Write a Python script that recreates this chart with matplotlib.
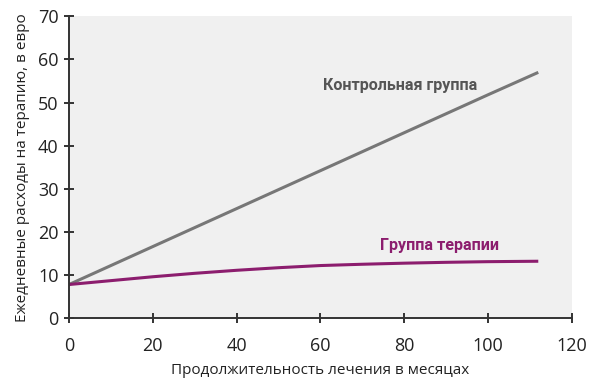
import matplotlib.pyplot as plt

# Daily therapy costs vs. treatment duration
months = [0, 10, 20, 30, 40, 50, 60, 70, 80, 90, 100, 112]
control = [7.8, 12.2, 16.6, 21.0, 25.4, 29.8, 34.2, 38.6, 43.0, 47.4, 51.8, 57.0]
therapy = [7.8, 8.7, 9.6, 10.4, 11.1, 11.7, 12.2, 12.5, 12.75, 12.95, 13.1, 13.2]

x_ticks = [0, 20, 40, 60, 80, 100, 120]
y_ticks = [0, 10, 20, 30, 40, 50, 60, 70]

GRAY = "#777777"
PURPLE = "#8c1d6e"

fig = plt.figure(figsize=(6, 3.88), dpi=100)
ax = fig.add_axes([0.115, 0.18, 0.838, 0.778])
ax.set_facecolor("#f0f0f0")

ax.plot(months, control, color=GRAY, lw=2.2, solid_capstyle="butt")
ax.plot(months, therapy, color=PURPLE, lw=2.2, solid_capstyle="butt")

ax.text(60.6, 53.0, "Контрольная группа", family="Roboto", fontweight="bold",
        fontsize=11.6, color="#555555", va="baseline", ha="left")
ax.text(74.2, 15.9, "Группа терапии", family="Roboto", fontweight="bold",
        fontsize=11.6, color=PURPLE, va="baseline", ha="left")

ax.set_xlim(0, 120)
ax.set_ylim(0, 70)
ax.set_xticks(x_ticks)
ax.set_yticks(y_ticks)
for s in ("top", "right"):
    ax.spines[s].set_visible(False)
for s in ("left", "bottom"):
    ax.spines[s].set_color("#333333")
    ax.spines[s].set_linewidth(1.4)
ax.tick_params(direction="inout", length=7, width=1.4, color="#333333",
               labelsize=13, labelcolor="#222222")
ax.tick_params(axis="x", pad=10)
ax.tick_params(axis="y", pad=4)
for lab in ax.get_xticklabels() + ax.get_yticklabels():
    lab.set_family("Open Sans")

ax.set_xlabel("Продолжительность лечения в месяцах", family="Open Sans",
              fontsize=11, color="#222222", labelpad=6)
ax.set_ylabel("Ежедневные расходы на терапию, в евро", family="Open Sans",
              fontsize=11, color="#222222", labelpad=6)

fig.savefig("out.png", dpi=100)
